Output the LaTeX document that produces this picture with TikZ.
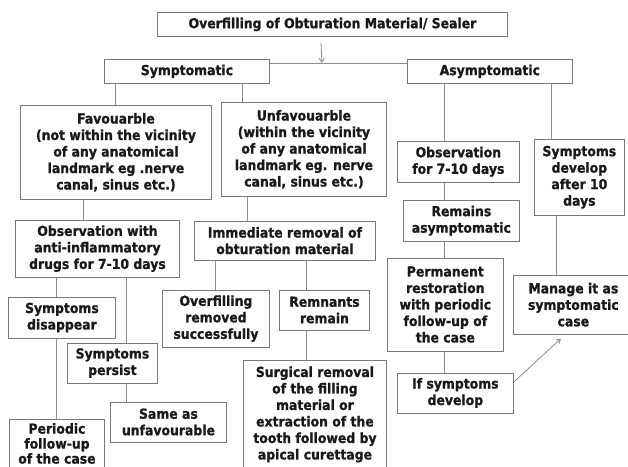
\documentclass[tikz,border=0pt]{standalone}
\usepackage{fontspec}
\setmainfont{DejaVu Sans}
\newfontfamily\boxfont{DejaVu Sans}[FakeStretch=0.9, BoldFeatures={FakeBold=1}]
\usetikzlibrary{arrows.meta,positioning}
\definecolor{boxgray}{RGB}{120,120,120}
\definecolor{linegray}{RGB}{140,140,140}

\begin{document}
\begin{tikzpicture}[
process/.style={rectangle, draw=boxgray, line width=0.9pt, align=center, inner sep=2pt, anchor=north west, font=\boxfont\bfseries\fontsize{13.8}{16.5}\selectfont, text=black!90},
link/.style={draw=linegray, line width=0.8pt},
arrow/.style={link, -{Straight Barb[length=4pt,width=5pt]}}
]

\useasboundingbox (0,0) rectangle (628pt,-466pt);

\node[process, minimum width=350pt, minimum height=24pt] (title) at (157pt,-12pt) {Overfilling of Obturation Material/ Sealer};

\node[process, minimum width=165pt, minimum height=24pt, below right=22pt and -53pt of title.south west] (symp) {Symptomatic};
\node[process, minimum width=165pt, minimum height=24pt, right=137pt of symp] (asymp) {Asymptomatic};

% symptomatic side
\node[process, minimum width=191pt, minimum height=94pt, below right=21pt and -84pt of symp.south west] (fav) {Favouarble\\(not within the vicinity\\of any anatomical\\landmark eg .nerve\\canal, sinus etc.)};
\node[process, minimum width=165pt, minimum height=94pt, below right=18pt and 117pt of symp.south west] (unfav) {Unfavouarble\\(within the vicinity\\of any anatomical\\landmark eg. nerve\\canal, sinus etc.)};

\node[process, minimum width=164pt, minimum height=57pt, below right=20pt and -5pt of fav.south west] (obsfav) {Observation with\\anti-inflammatory\\drugs for 7-10 days};
\node[process, minimum width=181pt, minimum height=39pt, below right=24pt and -27pt of unfav.south west] (removal) {Immediate removal of\\obturation material};

\node[process, minimum width=107pt, minimum height=41pt, below right=19pt and -7pt of obsfav.south west] (disappear) {Symptoms\\disappear};
\node[process, minimum width=90pt, minimum height=40pt, below right=65pt and 52pt of obsfav.south west] (persist) {Symptoms\\persist};
\node[process, minimum width=95pt, minimum height=49pt, font=\boxfont\bfseries\fontsize{13.8}{15}\selectfont, below right=80pt and 1pt of disappear.south west] (periodic) {Periodic\\follow-up\\of the case};
\node[process, minimum width=116pt, minimum height=40pt, below right=18pt and 43pt of persist.south west] (same) {Same as\\unfavourable};

\node[process, minimum width=107pt, minimum height=57pt, below right=29pt and -32pt of removal.south west] (removed) {Overfilling\\removed\\successfully};
\node[process, minimum width=90pt, minimum height=40pt, below right=29pt and 85pt of removal.south west] (remnants) {Remnants\\remain};
\node[process, minimum width=143pt, minimum height=109pt, below right=29pt and -36pt of remnants.south west] (surgical) {Surgical removal\\of the filling\\material or\\extraction of the\\tooth followed by\\apical curettage};

% asymptomatic side
\node[process, minimum width=122pt, minimum height=41pt, below right=57pt and -10pt of asymp.south west] (obsasymp) {Observation\\for 7-10 days};
\node[process, minimum width=90pt, minimum height=76pt, below right=55pt and 127pt of asymp.south west] (develop) {Symptoms\\develop\\after 10\\days};
\node[process, minimum width=116pt, minimum height=41pt, below right=17pt and 6pt of obsasymp.south west] (remains) {Remains\\asymptomatic};
\node[process, minimum width=116pt, minimum height=93pt, below right=16pt and -16pt of remains.south west] (restoration) {Permanent\\restoration\\with periodic\\follow-up of\\the case};
\node[process, minimum width=116pt, minimum height=40pt, below right=21pt and 10pt of restoration.south west] (ifdevelop) {If symptoms\\develop};
\node[process, minimum width=120pt, minimum height=59pt, below right=59pt and -21pt of develop.south west] (manage) {Manage it as\\symptomatic\\case};

\coordinate (fork) at ([yshift=-4pt]symp.north east);
\draw[link] (fork) -- (fork -| asymp.west);
\draw[arrow] ([xshift=164pt,yshift=-6pt]title.south west) -- ([xshift=52pt]fork);

\draw[link] ([xshift=11pt]symp.south west) -- ([xshift=95pt]fav.north west);
\draw[link] ([xshift=138pt]symp.south west) -- ([xshift=21pt]unfav.north west);
\draw[link] ([xshift=37pt]asymp.south west) -- ([xshift=47pt]obsasymp.north west);
\draw[link] ([xshift=144pt]asymp.south west) -- ([xshift=17pt]develop.north west);

\draw[link] ([xshift=63pt]fav.south west) -- ([xshift=68pt]obsfav.north west);
\draw[link] ([xshift=26pt]unfav.south west) -- ([xshift=53pt]removal.north west);
\draw[link] ([xshift=41pt]obsfav.south west) -- ([xshift=48pt]disappear.north west);
\draw[link] ([xshift=111pt]obsfav.south west) -- ([xshift=59pt]persist.north west);
\draw[link] ([xshift=48pt]disappear.south west) -- ([xshift=47pt]periodic.north west);
\draw[link] ([xshift=59pt]persist.south west) -- ([xshift=16pt]same.north west);
\draw[link] ([xshift=21pt]removal.south west) -- ([xshift=53pt]removed.north west);
\draw[link] ([xshift=112pt]removal.south west) -- ([xshift=27pt]remnants.north west);
\draw[link] ([xshift=27pt]remnants.south west) -- ([xshift=63pt]surgical.north west);

\draw[link] ([xshift=47pt]obsasymp.south west) -- ([xshift=41pt]remains.north west);
\draw[link] ([xshift=41pt]remains.south west) -- ([xshift=57pt]restoration.north west);
\draw[link] ([xshift=57pt]restoration.south west) -- ([xshift=47pt]ifdevelop.north west);
\draw[link] ([xshift=22pt]develop.south west) -- ([xshift=43pt]manage.north west);
\draw[arrow] ([yshift=11pt]ifdevelop.east) -- ([xshift=48pt,yshift=-4pt]manage.south west);

\end{tikzpicture}
\end{document}
